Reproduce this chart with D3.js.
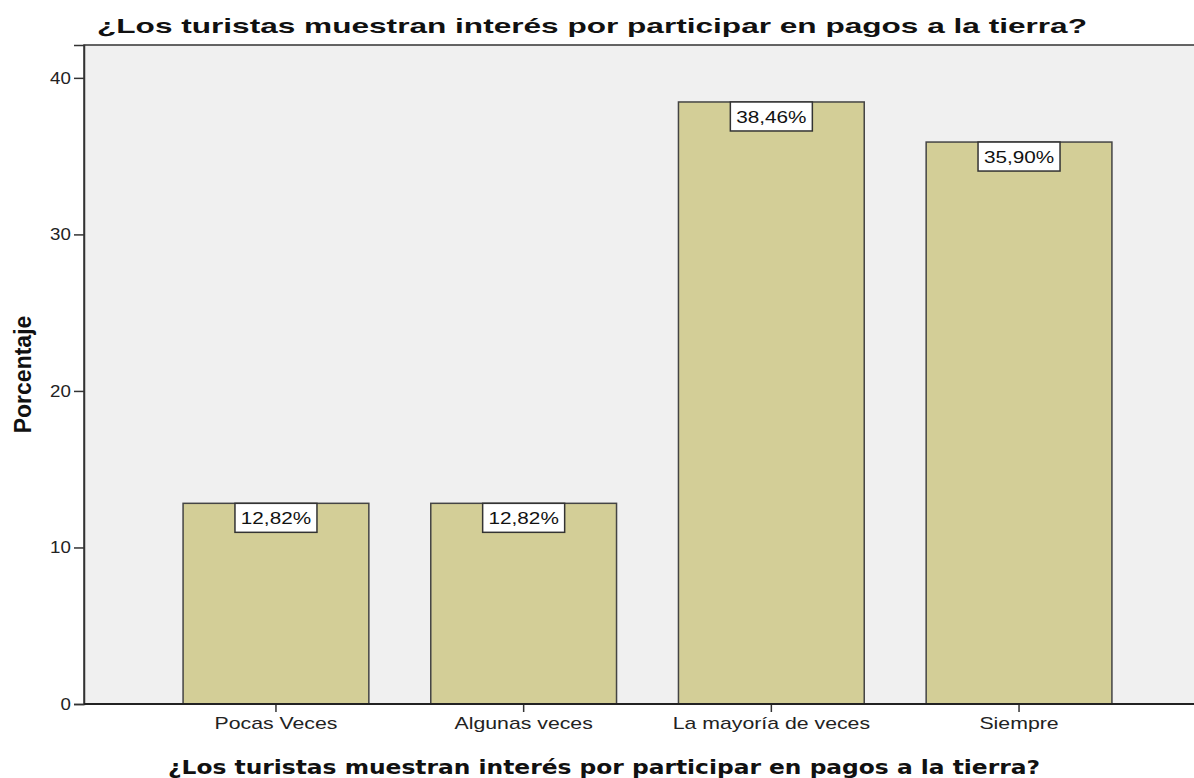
<!DOCTYPE html>
<html>
<head>
<meta charset="utf-8">
<script src="https://cdn.jsdelivr.net/npm/d3@7"></script>
<style>
  body { margin: 0; background: #fff; }
  text { font-family: Arial, "Liberation Sans", sans-serif; }
</style>
</head>
<body>
<script>
var categories = ["Pocas Veces", "Algunas veces", "La mayoría de veces", "Siempre"]
var percents = [12.82, 12.82, 38.46, 35.90]
var yTicks = [0, 10, 20, 30, 40]
var titleText = "¿Los turistas muestran interés por participar en pagos a la tierra?"
var yTitle = "Porcentaje"

var width = 1194, height = 778
var plot = {left: 84, top: 45, right: 1211, bottom: 704}

var svg = d3.select("body")
            .append("svg")
            .attr("width", width)
            .attr("height", height)

var xScale = d3.scaleBand()
               .domain(categories)
               .range([plot.left, plot.right])
               .paddingInner(0.25)
               .paddingOuter(0.4)

var yScale = d3.scaleLinear()
               .domain([0, 42.1])
               .range([plot.bottom, plot.top])

// plot background
svg.append("rect")
   .attr("x", plot.left)
   .attr("y", plot.top)
   .attr("width", plot.right - plot.left)
   .attr("height", plot.bottom - plot.top)
   .attr("fill", "#f0f0f0")
   .attr("stroke", "#333")
   .attr("stroke-width", 1.5)

svg.selectAll(".bar")
   .data(percents)
   .enter()
   .append("rect")
   .attr("class", "bar")
   .attr("x", (d, i) => xScale(categories[i]))
   .attr("y", d => yScale(d))
   .attr("width", xScale.bandwidth())
   .attr("height", d => yScale(0) - yScale(d))
   .attr("fill", "#d3ce97")
   .attr("stroke", "#444")
   .attr("stroke-width", 1.5)

// value labels
var lab = svg.selectAll(".lab")
             .data(percents)
             .enter()
             .append("g")
             .attr("class", "lab")
             .attr("transform", (d, i) => "translate(" + (xScale(categories[i]) + xScale.bandwidth() / 2) + "," + yScale(d) + ")")

lab.append("rect")
   .attr("x", -41)
   .attr("y", 0)
   .attr("width", 82)
   .attr("height", 29)
   .attr("fill", "#fff")
   .attr("stroke", "#333")
   .attr("stroke-width", 1.5)

lab.append("text")
   .attr("x", 0)
   .attr("y", 21)
   .attr("text-anchor", "middle")
   .attr("font-size", 17)
   .attr("transform", "scale(1.22,1)")
   .attr("fill", "#111")
   .text(d => d.toFixed(2).replace(".", ",") + "%")

// axes
var yAxis = svg.append("g")
               .attr("transform", "translate(" + plot.left + ",0)")
               .call(d3.axisLeft(yScale).tickValues(yTicks).tickSize(10).tickPadding(2))
yAxis.select(".domain").attr("stroke", "#333").attr("stroke-width", 1.5)
yAxis.selectAll(".tick line").attr("stroke", "#333").attr("stroke-width", 1.5)
yAxis.selectAll("text").attr("font-size", 17).attr("fill", "#222")
     .attr("transform", "scale(1.1,1)")

var xAxis = svg.append("g")
               .attr("transform", "translate(0," + plot.bottom + ")")
               .call(d3.axisBottom(xScale).tickSize(8).tickPadding(6).tickSizeOuter(0))
xAxis.select(".domain").remove()
xAxis.selectAll(".tick line").attr("stroke", "#333").attr("stroke-width", 1.5)
xAxis.selectAll("text").attr("font-size", 16).attr("fill", "#222")
     .attr("transform", "scale(1.33,1)")

svg.append("line")
   .attr("x1", plot.left).attr("x2", plot.right)
   .attr("y1", plot.bottom).attr("y2", plot.bottom)
   .attr("stroke", "#222").attr("stroke-width", 2)

// titles
svg.append("text")
   .attr("x", 97)
   .attr("y", 33)
   .attr("font-size", 21)
   .attr("font-weight", "bold")
   .attr("fill", "#111")
   .attr("textLength", 990)
   .attr("lengthAdjust", "spacingAndGlyphs")
   .text(titleText)

svg.append("text")
   .attr("x", 168)
   .attr("y", 774)
   .attr("font-size", 20)
   .attr("font-weight", "bold")
   .style("font-family", "'DejaVu Sans', Verdana, sans-serif")
   .attr("fill", "#111")
   .attr("textLength", 872)
   .attr("lengthAdjust", "spacingAndGlyphs")
   .text(titleText)

svg.append("text")
   .attr("transform", "translate(31," + ((plot.top + plot.bottom) / 2) + ") rotate(-90)")
   .attr("text-anchor", "middle")
   .attr("font-size", 23)
   .attr("font-weight", "bold")
   .attr("fill", "#111")
   .text(yTitle)
</script>
</body>
</html>
